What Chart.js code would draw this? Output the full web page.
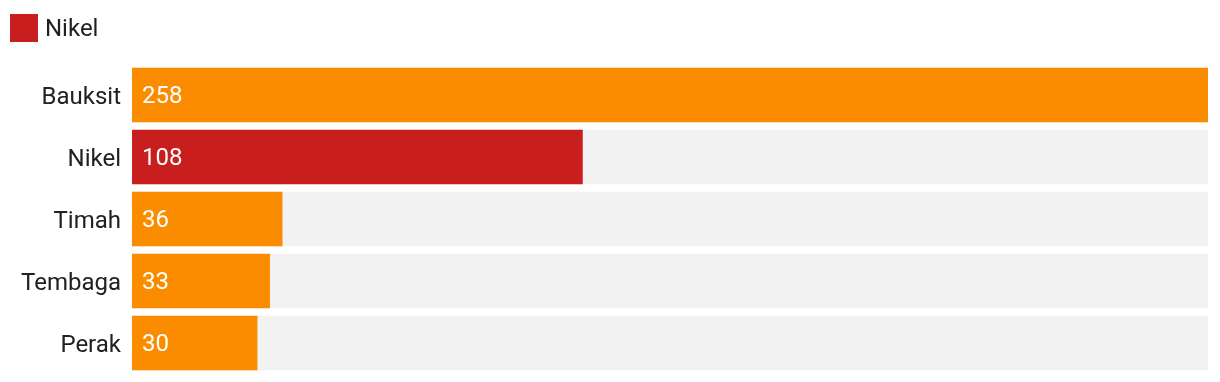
<!DOCTYPE html>
<html>
<head>
<meta charset="utf-8">
<script src="https://cdn.jsdelivr.net/npm/chart.js@4.4.0/dist/chart.umd.min.js"></script>
<style>
  html, body { margin: 0; padding: 0; background: #fff; }
  #wrap { position: relative; width: 1220px; height: 382px; }
  #legend { position: absolute; left: 10px; top: 14px; height: 28px; display: flex; align-items: center;
    font-family: Roboto, sans-serif; font-size: 24px; color: #212121; }
  #legend .box { width: 28px; height: 28px; margin-right: 7px; }
</style>
</head>
<body>
<div id="wrap">
  <canvas id="chart" width="1220" height="382"></canvas>
  <div id="legend"><span class="box"></span><span class="txt"></span></div>
</div>
<script>
const categories = ['Bauksit', 'Nikel', 'Timah', 'Tembaga', 'Perak'];
const values = [258, 108, 36, 33, 30];
const axisMax = 258;
const highlight = 'Nikel';

const colors = {
  normal: '#fb8c00',
  highlight: '#c81e1e',
  track: '#f2f2f2',
  label: '#212121'
};

const legendEl = document.getElementById('legend');
legendEl.querySelector('.box').style.background = colors.highlight;
legendEl.querySelector('.txt').textContent = highlight;

// white value text at the start of each bar
const valueLabels = {
  id: 'valueLabels',
  afterDatasetsDraw(chart) {
    const meta = chart.getDatasetMeta(0);
    const ctx = chart.ctx;
    ctx.save();
    ctx.fillStyle = '#fff';
    ctx.font = '24px Roboto';
    ctx.textAlign = 'left';
    ctx.textBaseline = 'middle';
    meta.data.forEach((bar, i) => {
      ctx.fillText(String(values[i]), bar.base + 10, bar.y + 2);
    });
    ctx.restore();
  }
};

new Chart(document.getElementById('chart'), {
  type: 'bar',
  data: {
    labels: categories,
    datasets: [
      {
        label: 'value',
        data: values,
        backgroundColor: categories.map(c => c === highlight ? colors.highlight : colors.normal),
        barThickness: 54,
        grouped: false,
        order: 0
      },
      {
        label: 'track',
        data: categories.map(() => axisMax),
        backgroundColor: colors.track,
        barThickness: 54,
        grouped: false,
        order: 1
      }
    ]
  },
  options: {
    indexAxis: 'y',
    responsive: false,
    animation: false,
    layout: { padding: { top: 64, right: 12, bottom: 8, left: 0 } },
    plugins: {
      legend: { display: false },
      tooltip: { enabled: false }
    },
    scales: {
      x: { display: false, min: 0, max: axisMax },
      y: {
        grid: { display: false, drawTicks: false },
        border: { display: false },
        ticks: { color: colors.label, font: { family: 'Roboto', size: 24 }, padding: 11, labelOffset: 3 },
        afterFit: s => { s.width = 132; s.paddingTop = 0; s.paddingBottom = 0; }
      }
    }
  },
  plugins: [valueLabels]
});
</script>
</body>
</html>
